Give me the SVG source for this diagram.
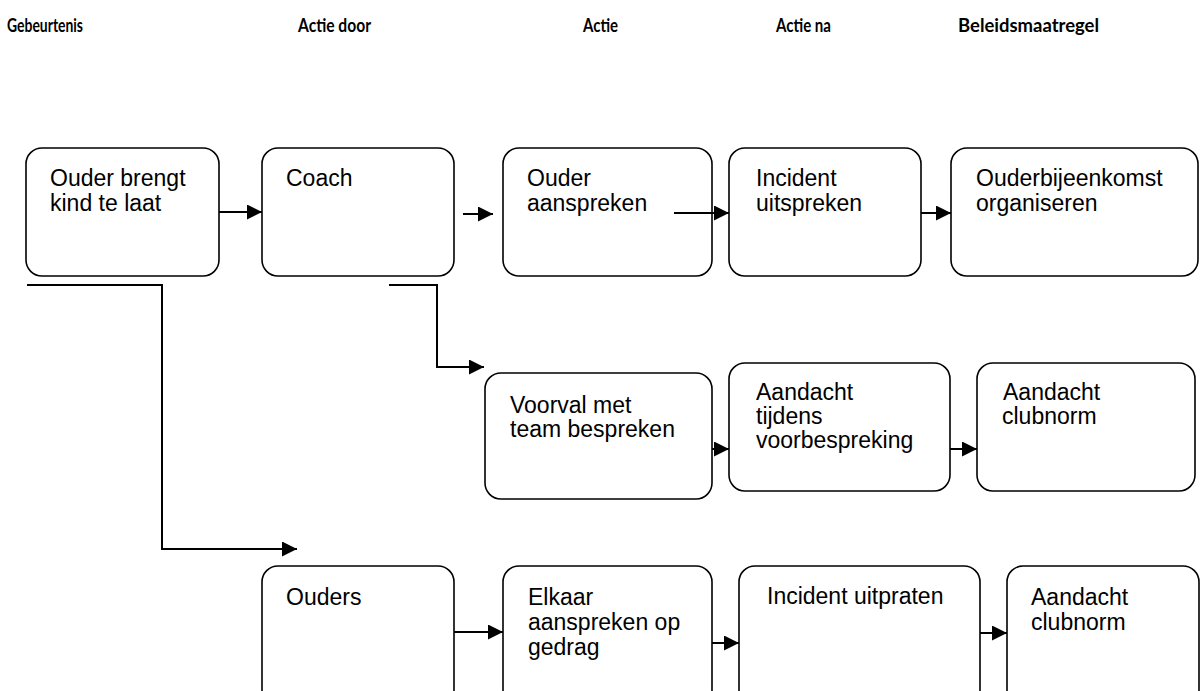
<svg xmlns="http://www.w3.org/2000/svg" width="1201" height="691" viewBox="0 0 1201 691">
<style>
.box{fill:#fff;stroke:#000;stroke-width:1.6}
.t{font-family:"Liberation Sans",Arial,sans-serif;font-size:23px;fill:#000}
.h{font-family:Lato,"Liberation Sans",sans-serif;font-weight:bold;font-size:18px;fill:#000}
.c{fill:none;stroke:#000;stroke-width:2}
</style>
<defs>
<marker id="ah" markerWidth="16" markerHeight="16" refX="15" refY="7.5" orient="auto" markerUnits="userSpaceOnUse">
<path d="M0,0 L15,7.5 L0,15 Z" fill="#000"/>
</marker>
</defs>
<rect width="1201" height="691" fill="#fff"/>
<g id="headers">
<text class="h" x="7" y="32" textLength="76" lengthAdjust="spacingAndGlyphs">Gebeurtenis</text>
<text class="h" x="298" y="32" textLength="73" lengthAdjust="spacingAndGlyphs">Actie door</text>
<text class="h" x="583" y="32" textLength="35" lengthAdjust="spacingAndGlyphs">Actie</text>
<text class="h" x="776" y="32" textLength="55" lengthAdjust="spacingAndGlyphs">Actie na</text>
<text class="h" x="958" y="32" textLength="141" lengthAdjust="spacingAndGlyphs">Beleidsmaatregel</text>
</g>
<g id="nA"><rect class="box" x="26" y="148" width="193" height="128" rx="16"/><text class="t" x="50" y="186">Ouder brengt</text><text class="t" x="50" y="211">kind te laat</text></g>
<g id="nB"><rect class="box" x="262" y="148" width="192" height="128" rx="16"/><text class="t" x="286" y="186">Coach</text></g>
<g id="nC"><rect class="box" x="503" y="148" width="209" height="128" rx="16"/><text class="t" x="527" y="186">Ouder</text><text class="t" x="527" y="211">aanspreken</text></g>
<g id="nD"><rect class="box" x="729" y="148" width="192" height="128" rx="16"/><text class="t" x="756" y="186">Incident</text><text class="t" x="756" y="211">uitspreken</text></g>
<g id="nE"><rect class="box" x="951" y="148" width="247" height="128" rx="16"/><text class="t" x="976" y="186">Ouderbijeenkomst</text><text class="t" x="976" y="211">organiseren</text></g>
<g id="nF"><rect class="box" x="485" y="373" width="227" height="126" rx="16"/><text class="t" x="510" y="413">Voorval met</text><text class="t" x="510" y="437">team bespreken</text></g>
<g id="nG"><rect class="box" x="729" y="363" width="221" height="128" rx="16"/><text class="t" x="756" y="400">Aandacht</text><text class="t" x="756" y="424">tijdens</text><text class="t" x="756" y="448">voorbespreking</text></g>
<g id="nH"><rect class="box" x="977" y="363" width="218" height="128" rx="16"/><text class="t" x="1003" y="400">Aandacht</text><text class="t" x="1002" y="424">clubnorm</text></g>
<g id="nI"><rect class="box" x="262" y="566" width="192" height="140" rx="16"/><text class="t" x="286" y="605">Ouders</text></g>
<g id="nJ"><rect class="box" x="503" y="566" width="209" height="140" rx="16"/><text class="t" x="528" y="605">Elkaar</text><text class="t" x="528" y="630">aanspreken op</text><text class="t" x="528" y="655">gedrag</text></g>
<g id="nK"><rect class="box" x="739" y="566" width="241" height="140" rx="16"/><text class="t" x="767" y="604">Incident uitpraten</text></g>
<g id="nL"><rect class="box" x="1007" y="566" width="192" height="140" rx="16"/><text class="t" x="1031" y="605">Aandacht</text><text class="t" x="1031" y="630">clubnorm</text></g>
<g id="connectors">
<line class="c" x1="219" y1="212" x2="262" y2="212" marker-end="url(#ah)"/>
<line class="c" x1="463" y1="214" x2="493" y2="214" marker-end="url(#ah)"/>
<line class="c" x1="674" y1="213" x2="729" y2="213" marker-end="url(#ah)"/>
<line class="c" x1="921" y1="213" x2="951" y2="213" marker-end="url(#ah)"/>
<polyline class="c" points="27,285 162,285 162,549 297,549" marker-end="url(#ah)"/>
<polyline class="c" points="389,285 437,285 437,367 484,367" marker-end="url(#ah)"/>
<line class="c" x1="712" y1="449" x2="729" y2="449" marker-end="url(#ah)"/>
<line class="c" x1="950" y1="449" x2="977" y2="449" marker-end="url(#ah)"/>
<line class="c" x1="454" y1="632" x2="503" y2="632" marker-end="url(#ah)"/>
<line class="c" x1="712" y1="643" x2="739" y2="643" marker-end="url(#ah)"/>
<line class="c" x1="980" y1="633" x2="1007" y2="633" marker-end="url(#ah)"/>
</g>
</svg>
